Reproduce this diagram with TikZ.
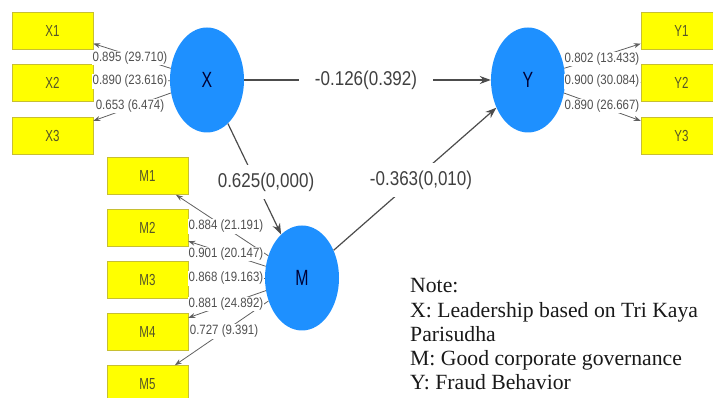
\documentclass[tikz,border=0pt]{standalone}
\usepackage{fontspec}
\usetikzlibrary{arrows.meta, positioning, shapes.geometric}
\newfontfamily\plsfont[FakeStretch=0.85]{Liberation Sans}
\newfontfamily\boxfont[FakeStretch=0.72]{Liberation Sans}
\newfontfamily\notefont{Liberation Serif}
\definecolor{plsblue}{RGB}{30,144,255}
\definecolor{plsyellow}{RGB}{255,255,0}
\definecolor{boxtext}{RGB}{85,85,40}
\definecolor{loadgray}{RGB}{80,80,80}

\begin{document}
\begin{tikzpicture}[
    x=1pt, y=-1pt,
    >={Stealth[length=7pt,width=5pt]},
    indicator/.style={draw=yellow!75!black, line width=0.5pt, fill=plsyellow,
                      minimum width=81pt, minimum height=37pt, inner sep=0pt,
                      font=\boxfont\fontsize{16}{16}\selectfont, text=boxtext},
    latent/.style={ellipse, fill=plsblue, minimum width=74pt, minimum height=105pt,
                   font=\boxfont\fontsize{22}{22}\selectfont, text=black!80!blue},
    loading/.style={fill=white, inner sep=1pt,
                    font=\plsfont\fontsize{13.5}{13.5}\selectfont, text=loadgray},
    coef/.style={fill=white, inner sep=8pt,
                 font=\plsfont\fontsize{20}{20}\selectfont, text=black!75},
    structural/.style={->, line width=1.2pt, black!70,
                       >={Stealth[length=11pt,width=8pt]}},
    every edge/.style={draw, ->, line width=0.8pt, gray!75!black},
    node distance=15pt
  ]
  \clip (0,0) rectangle (713,398);

  % latent variables
  \node[latent] (X) at (207,80) {X};
  \node[latent] (Y) at (528,80) {Y};
  \node[latent] (M) at (302,278) {M};

  % indicators
  \node[indicator] (X1) at (52.5,30.5) {X1};
  \node[indicator, below=of X1] (X2) {X2};
  \node[indicator, below=of X2] (X3) {X3};
  \node[indicator] (Y1) at (681.5,30.5) {Y1};
  \node[indicator, below=of Y1] (Y2) {Y2};
  \node[indicator, below=of Y2] (Y3) {Y3};
  \node[indicator] (M1) at (147.5,176) {M1};
  \node[indicator, below=14.5pt of M1] (M2) {M2};
  \node[indicator, below=14.5pt of M2] (M3) {M3};
  \node[indicator, below=14.5pt of M3] (M4) {M4};
  \node[indicator, below=14.5pt of M4] (M5) {M5};

  % outer loadings
  \draw (X) edge (X1) edge (X2) edge (X3);
  \draw (Y) edge (Y1) edge (Y2) edge (Y3);
  \draw (M) edge (M1) edge (M2) edge (M3) edge (M4) edge (M5);

  % structural paths
  \draw (X) edge[structural] (Y);
  \draw (X) edge[structural] (M);
  \draw (M) edge[structural] (Y);

  \node[loading] (lx1) at (130,58) {0.895 (29.710)};
  \node[loading] (lx2) at (130,81.5) {0.890 (23.616)};
  \node[loading] (lx3) at (130,106) {0.653 (6.474)};
  \node[loading] (ly1) at (602,59) {0.802 (13.433)};
  \node[loading] (ly2) at (602,81.5) {0.900 (30.084)};
  \node[loading] (ly3) at (602,106) {0.890 (26.667)};
  \node[loading] (lm1) at (226,226.5) {0.884 (21.191)};
  \node[loading] (lm2) at (226,254) {0.901 (20.147)};
  \node[loading] (lm3) at (226,278.5) {0.868 (19.163)};
  \node[loading] (lm4) at (226,304) {0.881 (24.892)};
  \node[loading] (lm5) at (224,331.5) {0.727 (9.391)};

  \node[coef, inner xsep=16pt] (pxy) at (366,80) {-0.126(0.392)};
  \node[coef] (pxm) at (266,182) {0.625(0,000)};
  \node[coef] (pmy) at (421,180) {-0.363(0,010)};

  % legend
  \node[anchor=base west, align=left, inner sep=0pt, text=black!90,
        font=\notefont\fontsize{21.7}{24.3}\selectfont] (note) at (410,390)
    {Note:\\X: Leadership based on Tri Kaya\\Parisudha\\M: Good corporate governance\\Y: Fraud Behavior};
\end{tikzpicture}
\end{document}
